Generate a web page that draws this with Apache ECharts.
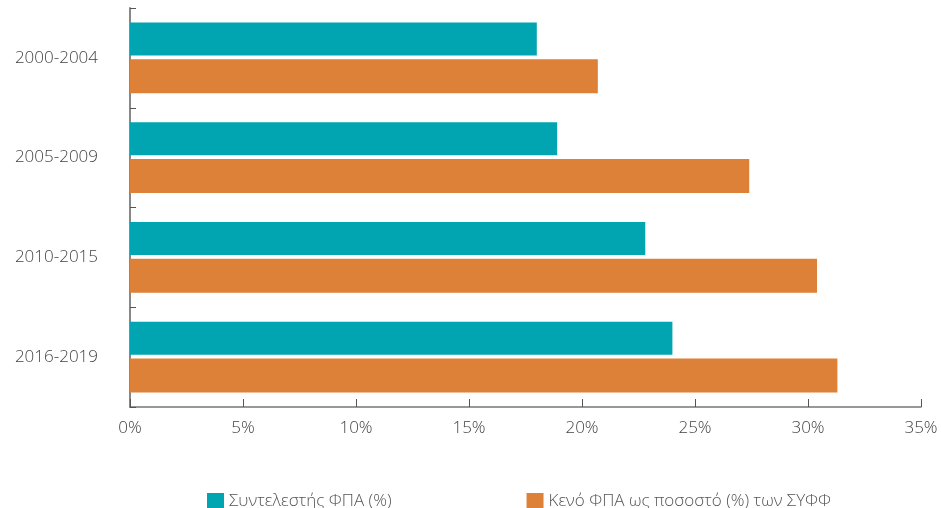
<!DOCTYPE html>
<html><head><meta charset="utf-8">
<script src="https://cdn.jsdelivr.net/npm/echarts@6/dist/echarts.min.js"></script>
<style>html,body{margin:0;padding:0;background:#fff}#c{width:941px;height:508px}</style>
</head><body><div id="c"></div>
<script>
const categories = ['2000-2004','2005-2009','2010-2015','2016-2019'];
const vatRate = [18.0, 18.9, 22.8, 24.0];
const vatGap = [20.7, 27.4, 30.4, 31.3];
const seriesNames = ['Συντελεστής ΦΠΑ (%)','Κενό ΦΠΑ ως ποσοστό (%) των ΣΥΦΦ'];
const xTicks = [0,5,10,15,20,25,30,35];

const font = '"Open Sans", sans-serif';
const chart = echarts.init(document.getElementById('c'));
chart.setOption({
  animation:false,
  textStyle:{fontFamily:font},
  grid:{left:130,right:20,top:8,bottom:101},
  legend:{
    top:488,left:202,itemWidth:17,itemHeight:17,itemGap:135,icon:'rect',
    textStyle:{fontFamily:font,fontSize:17,color:'#555',fontWeight:300},
    data:seriesNames
  },
  xAxis:{
    type:'value',min:0,max:35,interval:5,
    axisLine:{show:true,lineStyle:{color:'#777',width:1.5}},
    axisTick:{show:true,inside:true,length:8,lineStyle:{color:'#555'}},
    splitLine:{show:false},
    axisLabel:{formatter:v=>v+'%',fontSize:17,color:'#444',margin:13,fontFamily:font,fontWeight:300}
  },
  yAxis:{
    type:'category',data:categories,inverse:true,
    axisLine:{show:true,lineStyle:{color:'#888',width:2}},
    axisTick:{show:true,inside:true,length:6,lineStyle:{color:'#555'}},
    axisLabel:{fontSize:17,color:'#444',margin:32,fontFamily:font,fontWeight:300}
  },
  series:[
    {name:seriesNames[0],type:'bar',data:vatRate,barWidth:33,barGap:'12%',itemStyle:{color:'#00A5B1'}},
    {name:seriesNames[1],type:'bar',data:vatGap,barWidth:34,itemStyle:{color:'#DC8137'}}
  ]
});
</script></body></html>
